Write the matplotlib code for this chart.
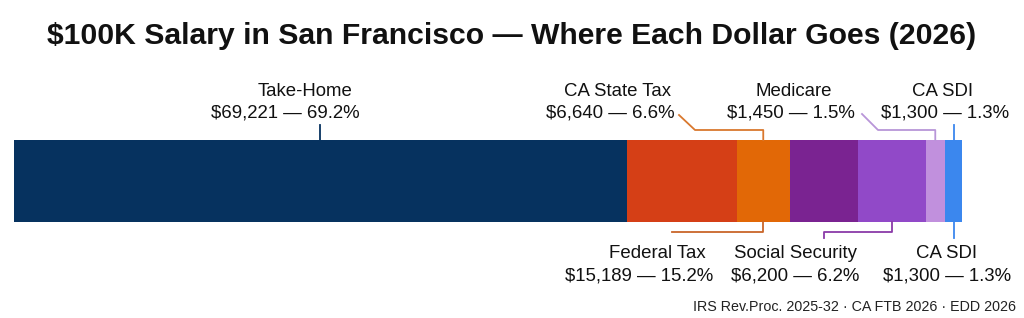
import matplotlib.pyplot as plt

plt.rcParams['font.family'] = ['Liberation Sans', 'DejaVu Sans']

# Segment widths as drawn in the bar (dollars)
segments = ['Take-Home', 'Federal Tax', 'CA State Tax', 'Social Security',
            'Medicare', 'CA SDI', 'CA SDI (2)']
widths = [64600, 11600, 5620, 7200, 7110, 2040, 1830]
colors = ['#06325f', '#d53f16', '#e26806', '#7a2391', '#9149c8', '#c190dd', '#3b87ee']

# Callout labels: name, amount, share, segment the leader points to
label_names = ['Take-Home', 'CA State Tax', 'Medicare', 'CA SDI',
               'Federal Tax', 'Social Security', 'CA SDI']
label_amounts = ['$69,221', '$6,640', '$1,450', '$1,300', '$15,189', '$6,200', '$1,300']
label_pcts = ['69.2%', '6.6%', '1.5%', '1.3%', '15.2%', '6.2%', '1.3%']
label_target = [0, 2, 5, 6, 2, 4, 6]

W, H = 1024, 318
fig = plt.figure(figsize=(W / 100, H / 100), dpi=100)
x0, x1 = 14, 962.3
total = sum(widths)
ax = fig.add_axes([x0 / W, 0, (x1 - x0) / W, 1])
ax.set_xlim(0, total)
ax.set_ylim(H, 0)
ax.axis('off')

# stacked bar
left = 0
centers = []
for w, c in zip(widths, colors):
    ax.barh(181, w, left=left, height=82, color=c, edgecolor='none')
    centers.append(left + w / 2)
    left += w


def xd(px):
    return (px - x0) / (x1 - x0) * total


def ftext(px, py, s, **kw):
    fig.text(px / W, 1 - py / H, s, **kw)


# label line centres in pixels: (x line1, x line2, y line1, y line2)
label_pos = [(305, 285, 92, 113), (618, 610, 92, 113), (794, 791, 92, 113),
             (943, 945, 92, 113), (657, 639, 253, 276), (795, 795, 253, 276),
             (947, 947, 253, 276)]
line_colors = ['#06325f', '#d9782e', '#b896d8', '#3b87ee', '#c9662a', '#8a3aa8', '#3b87ee']

for i, name in enumerate(label_names):
    ax1, ax2, ay1, ay2 = label_pos[i]
    ftext(ax1, ay1, name, ha='center', va='center', fontsize=13.4, color='#111111')
    ftext(ax2, ay2, f'{label_amounts[i]} \u2014 {label_pcts[i]}',
          ha='center', va='center', fontsize=13.4, color='#111111')
    cx = centers[label_target[i]]
    lc = line_colors[i]
    if i == 0 or i == 3:
        ax.plot([cx, cx], [125, 140], color=lc, lw=1.3)
    elif i == 1:
        ax.plot([xd(679), xd(695), cx, cx], [115, 130, 130, 140], color=lc, lw=1.3)
    elif i == 2:
        ax.plot([xd(862), xd(878), cx, cx], [114, 130, 130, 140], color=lc, lw=1.3)
    elif i == 4:
        ax.plot([cx, cx, xd(672)], [222, 232, 232], color=lc, lw=1.3)
    elif i == 5:
        ax.plot([cx, cx, xd(824), xd(824)], [222, 232, 232, 238], color=lc, lw=1.3)
    elif i == 6:
        ax.plot([cx, cx], [222, 238], color=lc, lw=1.3)

ftext(512, 36, '$100K Salary in San Francisco \u2014 Where Each Dollar Goes (2026)',
      ha='center', va='center', fontsize=21.7, fontweight='bold', color='#111111')
ftext(1016, 307, 'IRS Rev.Proc. 2025-32 \u00b7 CA FTB 2026 \u00b7 EDD 2026',
      ha='right', va='center', fontsize=10.3, color='#222222')

fig.savefig('out.png', dpi=100, facecolor='white')
